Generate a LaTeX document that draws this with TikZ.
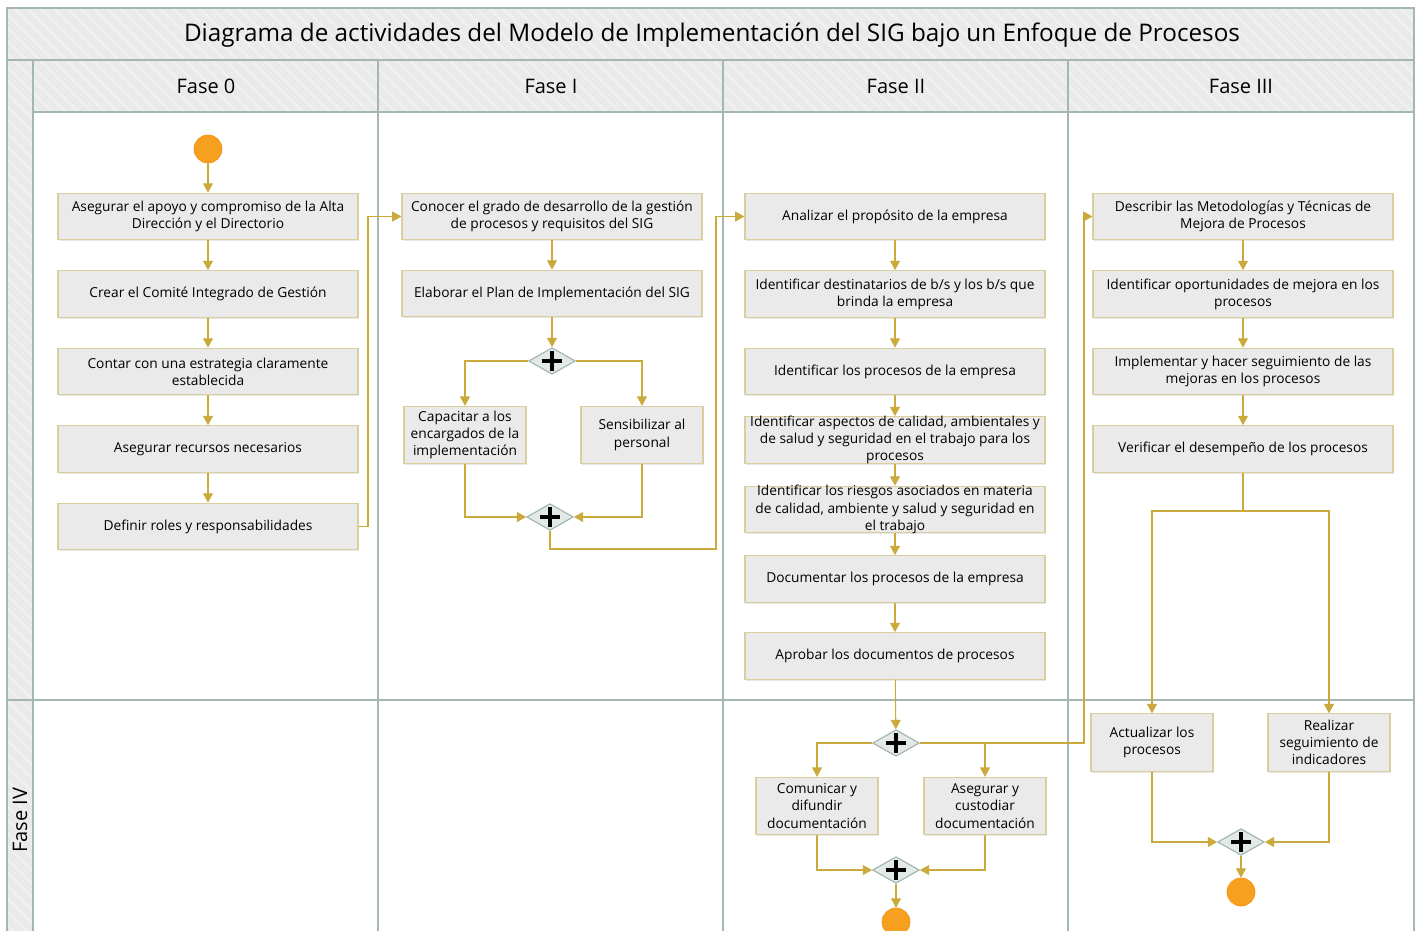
\documentclass[tikz,border=0pt]{standalone}
\usepackage{fontspec}
\setmainfont{Open Sans}
\usetikzlibrary{shapes.geometric,arrows.meta,shadows,patterns.meta}
\definecolor{lane}{HTML}{A5B8B0}
\definecolor{band}{HTML}{EAEAEA}
\definecolor{stripe}{HTML}{F1F1F1}
\definecolor{flow}{HTML}{CBAA3C}
\definecolor{boxfill}{HTML}{EAEAEA}
\definecolor{boxline}{HTML}{D8CE9E}
\definecolor{dot}{HTML}{F7A020}
\definecolor{dotline}{HTML}{EE9418}
\definecolor{gatefill}{HTML}{E3E9E7}
\definecolor{gateline}{HTML}{9DB2AA}
\newcommand{\boxfont}{\fontsize{10.3}{12.9}\selectfont}
\newcommand{\headfont}{\fontsize{15}{18}\selectfont}
\newcommand{\titlefont}{\fontsize{18.2}{22}\selectfont}
\tikzset{
  bandfill/.style={fill=band, postaction={pattern={Lines[angle=-45,distance=7pt,line width=1.5pt]}, pattern color=stripe}},
  laneline/.style={draw=lane, line width=1.1pt},
  act/.style={draw=boxline, fill=boxfill, line width=0.8pt, minimum width=225pt, minimum height=35pt,
    inner sep=2pt, align=center, font=\boxfont,
    drop shadow={shadow xshift=0.8pt, shadow yshift=-1.2pt, opacity=0.15, fill=black!60}},
  actsm/.style={act, minimum width=91.5pt, minimum height=43pt},
  txt/.style={align=center, font=\boxfont, inner sep=0pt},
  gate/.style={diamond, draw=gateline, fill=gatefill, line width=0.8pt, minimum width=35pt,
    minimum height=20pt, inner sep=0pt,
    path picture={
      \draw[black, line width=3.4pt] ([xshift=-7.5pt]path picture bounding box.center) -- ([xshift=7.5pt]path picture bounding box.center);
      \draw[black, line width=3.4pt] ([yshift=-7.5pt]path picture bounding box.center) -- ([yshift=7.5pt]path picture bounding box.center);}},
  dotnode/.style={circle, fill=dot, draw=dotline, line width=0.5pt, minimum size=21pt, inner sep=0pt},
  flowline/.style={draw=flow, line width=0.8pt, -{Triangle[width=7.5pt,length=7pt]}},
  flowplain/.style={draw=flow, line width=0.8pt},
  heading/.style={font=\headfont, inner sep=0pt},
}
\begin{document}
\begin{tikzpicture}[x=0.75pt,y=-0.75pt]
\useasboundingbox (0,0) rectangle (1421,931);
\fill[white] (0,0) rectangle (1421,931);
% bands
\path[bandfill] (7,8) rectangle (1414,60);
\path[bandfill] (33,60) rectangle (1414,112);
\path[bandfill] (7,60) rectangle (33,940);
% lane lines
\draw[laneline] (7,940) -- (7,8) -- (1414,8) -- (1414,940);
\draw[laneline] (7,60) -- (1414,60);
\draw[laneline] (33,112) -- (1414,112);
\draw[laneline] (33,60) -- (33,940);
\draw[laneline] (378,60) -- (378,940);
\draw[laneline] (723,60) -- (723,940);
\draw[laneline] (1068,60) -- (1068,940);
\draw[laneline] (7,700) -- (1414,700);
% headings
\node[font=\titlefont, inner sep=0pt] (title) at (712,35) {Diagrama de actividades del Modelo de Implementación del SIG bajo un Enfoque de Procesos};
\node[heading] (h0) at (206,86) {Fase 0};
\node[heading] (h1) at (551,86) {Fase I};
\node[heading] (h2) at (896,86) {Fase II};
\node[heading] (h3) at (1241,86) {Fase III};
\node[heading, rotate=90] (h4) at (20,820) {Fase IV};

% Fase 0
\node[dotnode] (s0) at (208,149) {};
\node[act] (b01) at (208,216.5) {Asegurar el apoyo y compromiso de la Alta\\Dirección y el Directorio};
\node[act] (b02) at (208,294) {Crear el Comité Integrado de Gestión};
\node[act] (b03) at (208,371.5) {Contar con una estrategia claramente\\establecida};
\node[act] (b04) at (208,449) {Asegurar recursos necesarios};
\node[act] (b05) at (208,526.5) {Definir roles y responsabilidades};

% Fase I
\node[act] (b11) at (552,216.5) {Conocer el grado de desarrollo de la gestión\\de procesos y requisitos del SIG};
\node[act] (b12) at (552,293.5) {Elaborar el Plan de Implementación del SIG};
\node[gate] (g1) at (552,361) {};
\node[actsm] (b13) at (465,435) {Capacitar a los\\encargados de la\\implementación};
\node[actsm] (b14) at (642,435) {Sensibilizar al\\personal};
\node[gate] (g2) at (550,517) {};

% Fase II
\node[act] (b21) at (895,216.5) {Analizar el propósito de la empresa};
\node[act] (b22) at (895,294) {Identificar destinatarios de b/s y los b/s que\\brinda la empresa};
\node[act] (b23) at (895,371.5) {Identificar los procesos de la empresa};
\node[act] (b24) at (895,440) {};
\node[txt] (t24) at (b24.center) {Identificar aspectos de calidad, ambientales y\\de salud y seguridad en el trabajo para los\\procesos};
\node[act] (b25) at (895,509.5) {};
\node[txt] (t25) at (b25.center) {Identificar los riesgos asociados en materia\\de calidad, ambiente y salud y seguridad en\\el trabajo};
\node[act] (b26) at (895,579) {Documentar los procesos de la empresa};
\node[act] (b27) at (895,656) {Aprobar los documentos de procesos};
\node[gate] (g3) at (896,743) {};
\node[actsm] (b28) at (817,806) {Comunicar y\\difundir\\documentación};
\node[actsm] (b29) at (985,806) {Asegurar y\\custodiar\\documentación};
\node[gate] (g4) at (896,870) {};
\node[dotnode] (e1) at (896,922) {};

% Fase III
\node[act] (b31) at (1243,216.5) {Describir las Metodologías y Técnicas de\\Mejora de Procesos};
\node[act] (b32) at (1243,294) {Identificar oportunidades de mejora en los\\procesos};
\node[act] (b33) at (1243,371.5) {Implementar y hacer seguimiento de las\\mejoras en los procesos};
\node[act] (b34) at (1243,449) {Verificar el desempeño de los procesos};
\node[actsm] (b35) at (1152,742.5) {Actualizar los\\procesos};
\node[actsm] (b36) at (1329,742.5) {Realizar\\seguimiento de\\indicadores};
\node[gate] (g5) at (1241,842) {};
\node[dotnode] (e2) at (1241,892) {};

% helper coordinates
\coordinate (c1) at (368,526.5);
\coordinate (c2) at (716,549);
\coordinate (c3) at (1084,743);
\coordinate (c4) at (1243,511);

% connectors Fase 0
\draw[flowline] (s0) -- (b01);
\draw[flowline] (b01) -- (b02);
\draw[flowline] (b02) -- (b03);
\draw[flowline] (b03) -- (b04);
\draw[flowline] (b04) -- (b05);
\draw[flowline] (b05.east) -- (c1) |- (b11.west);
% Fase I
\draw[flowline] (b11) -- (b12);
\draw[flowline] (b12) -- (g1);
\draw[flowline] (g1.west) -| (b13.north);
\draw[flowline] (g1.east) -| (b14.north);
\draw[flowline] (b13.south) |- (g2.west);
\draw[flowline] (b14.south) |- (g2.east);
\draw[flowline] (g2.south) |- (c2) |- (b21.west);
% Fase II
\draw[flowline] (b21) -- (b22);
\draw[flowline] (b22) -- (b23);
\draw[flowline] (b23) -- (b24);
\draw[flowline] (b24) -- (b25);
\draw[flowline] (b25) -- (b26);
\draw[flowline] (b26) -- (b27);
\draw[flowline] (b27) -- (g3);
\draw[flowline] (g3.west) -| (b28.north);
\draw[flowline] (g3.east) -| (b29.north);
\draw[flowline] (g3.east) -- (c3) |- (b31.west);
\draw[flowline] (b28.south) |- (g4.west);
\draw[flowline] (b29.south) |- (g4.east);
\draw[flowline] (g4) -- (e1);
% Fase III
\draw[flowline] (b31) -- (b32);
\draw[flowline] (b32) -- (b33);
\draw[flowline] (b33) -- (b34);
\draw[flowplain] (b34.south) -- (c4);
\draw[flowline] (c4) -| (b35.north);
\draw[flowline] (c4) -| (b36.north);
\draw[flowline] (b35.south) |- (g5.west);
\draw[flowline] (b36.south) |- (g5.east);
\draw[flowline] (g5) -- (e2);
\end{tikzpicture}
\end{document}
